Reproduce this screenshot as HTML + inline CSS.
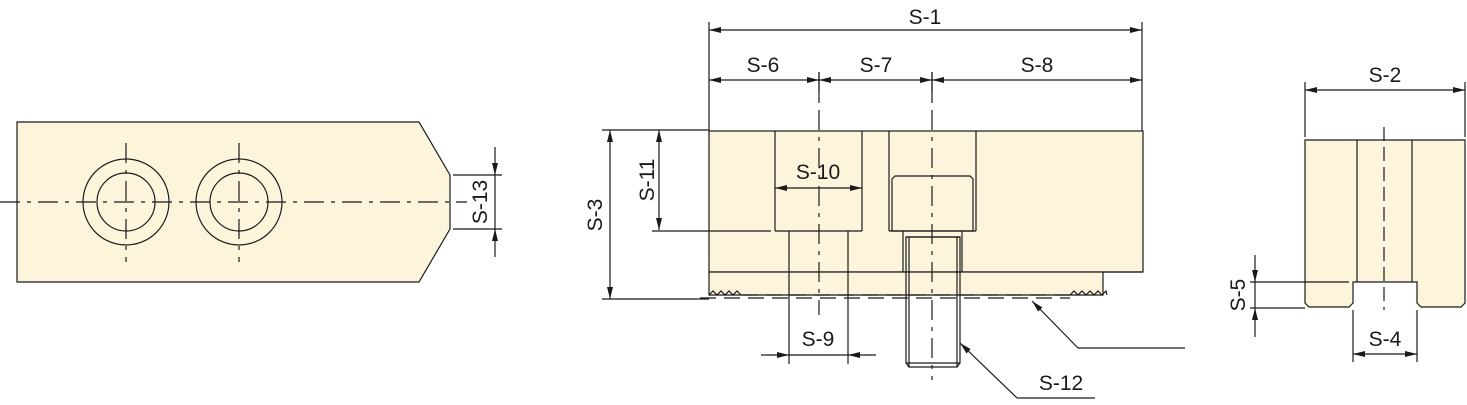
<!DOCTYPE html>
<html><head><meta charset="utf-8"><style>
html,body{margin:0;padding:0;background:#fff;}
svg{display:block;}
text{font-family:"Liberation Sans",Arial,sans-serif;font-size:21px;fill:#1a1a1a;}
</style></head><body>
<svg width="1467" height="405" viewBox="0 0 1467 405" xmlns="http://www.w3.org/2000/svg">
<defs>
<marker id="a" viewBox="0 0 12 6" refX="12" refY="3" markerWidth="12" markerHeight="6" markerUnits="userSpaceOnUse" orient="auto-start-reverse">
<path d="M0,0 L12,3 L0,6 z" fill="#1a1a1a"/></marker>
</defs>
<g stroke="#1a1a1a" stroke-width="1.2" fill="none">
<!-- LEFT VIEW -->
<path d="M17,122 L419,122 L450,175 L450,229 L419,282 L17,282 Z" fill="#fcf5dc"/>
<circle cx="126" cy="202" r="43"/><circle cx="126" cy="202" r="29"/>
<circle cx="239" cy="202" r="43"/><circle cx="239" cy="202" r="29"/>
<line x1="0" y1="202" x2="467" y2="202" stroke-dasharray="20,7,4,7"/>
<line x1="126" y1="143" x2="126" y2="262" stroke-dasharray="20,7,4,7"/>
<line x1="239" y1="143" x2="239" y2="262" stroke-dasharray="20,7,4,7"/>
<line x1="453" y1="175" x2="502" y2="175"/><line x1="453" y1="229" x2="502" y2="229"/>
<line x1="495" y1="147" x2="495" y2="175" marker-end="url(#a)"/>
<line x1="495" y1="257" x2="495" y2="229" marker-end="url(#a)"/>
<line x1="495" y1="175" x2="495" y2="229"/>

<!-- MIDDLE VIEW -->
<rect x="709" y="131" width="434" height="141" fill="#fcf5dc"/>
<path d="M709,272 L709,295 L1103,295 L1103,272" fill="#fcf5dc"/>
<line x1="709" y1="272" x2="1143" y2="272"/>
<path d="M709,295 l4,-4 l4,4 l4,-4 l4,4 l4,-4 l4,4 l4,-4 l4,4"/>
<path d="M1070,295 l4,-4 l4,4 l4,-4 l4,4 l4,-4 l4,4 l4,-4 l4,4 l4,-4 l1,4"/>
<line x1="742" y1="295" x2="1070" y2="295" stroke-dasharray="16,8"/>
<line x1="700" y1="298" x2="1070" y2="298" stroke-dasharray="16,8"/>
<!-- pocket 1 -->
<line x1="775" y1="131" x2="775" y2="231"/><line x1="862" y1="131" x2="862" y2="231"/>
<line x1="652" y1="231" x2="771" y2="231"/><line x1="775" y1="231" x2="862" y2="231"/>
<line x1="789" y1="231" x2="789" y2="364"/><line x1="848" y1="231" x2="848" y2="364"/>
<line x1="819" y1="72" x2="819" y2="315" stroke-dasharray="20,7,4,7"/>
<!-- pocket 2 + bolt -->
<line x1="889" y1="131" x2="889" y2="231"/><line x1="976" y1="131" x2="976" y2="231"/>
<path d="M892,231 L892,179 L895,176 L970,176 L973,179 L973,231 Z" fill="#fcf5dc"/>
<line x1="889" y1="231" x2="976" y2="231"/>
<line x1="903" y1="231" x2="903" y2="272"/><line x1="962" y1="231" x2="962" y2="272"/>
<path d="M906,237 L906,363 L909,367 L957,367 L960,363 L960,237 Z"/>
<line x1="906" y1="237" x2="960" y2="237"/>
<line x1="909" y1="237" x2="909" y2="367"/><line x1="957" y1="237" x2="957" y2="367"/>
<line x1="906" y1="363" x2="960" y2="363"/>
<line x1="932" y1="72" x2="932" y2="380" stroke-dasharray="20,7,4,7"/>
<!-- dims middle -->
<line x1="709" y1="22" x2="709" y2="131"/><line x1="1142" y1="22" x2="1142" y2="131"/>
<line x1="709" y1="30" x2="1142" y2="30" marker-start="url(#a)" marker-end="url(#a)"/>
<line x1="709" y1="80" x2="819" y2="80" marker-start="url(#a)" marker-end="url(#a)"/>
<line x1="819" y1="80" x2="932" y2="80" marker-start="url(#a)" marker-end="url(#a)"/>
<line x1="932" y1="80" x2="1142" y2="80" marker-start="url(#a)" marker-end="url(#a)"/>
<line x1="819" y1="72" x2="819" y2="100"/><line x1="932" y1="72" x2="932" y2="100"/>
<line x1="602" y1="130" x2="709" y2="130"/><line x1="602" y1="299" x2="709" y2="299"/>
<line x1="610" y1="130" x2="610" y2="299" marker-start="url(#a)" marker-end="url(#a)"/>
<line x1="659" y1="130" x2="659" y2="230" marker-start="url(#a)" marker-end="url(#a)"/>
<line x1="775" y1="188" x2="862" y2="188" marker-start="url(#a)" marker-end="url(#a)"/>
<line x1="761" y1="355" x2="789" y2="355" marker-end="url(#a)"/>
<line x1="876" y1="355" x2="848" y2="355" marker-end="url(#a)"/>
<line x1="789" y1="355" x2="848" y2="355"/>
<line x1="1078" y1="348" x2="1032" y2="301" marker-end="url(#a)"/>
<line x1="1078" y1="348" x2="1185" y2="348"/>
<line x1="1017" y1="398" x2="960" y2="343" marker-end="url(#a)"/>
<line x1="1017" y1="398" x2="1095" y2="398"/>

<!-- RIGHT VIEW -->
<path d="M1305,140 L1465,140 L1465,303 L1461,307 L1421,307 L1417,303 L1417,282 L1353,282 L1353,303 L1349,307 L1309,307 L1305,303 Z" fill="#fcf5dc"/>
<line x1="1357" y1="140" x2="1357" y2="282"/><line x1="1412" y1="140" x2="1412" y2="282"/>
<line x1="1250" y1="282" x2="1349" y2="282"/>
<line x1="1250" y1="308" x2="1305" y2="308"/>
<line x1="1384" y1="127" x2="1384" y2="310" stroke-dasharray="14,6"/>
<line x1="1305" y1="82" x2="1305" y2="137"/><line x1="1465" y1="82" x2="1465" y2="137"/>
<line x1="1305" y1="90" x2="1465" y2="90" marker-start="url(#a)" marker-end="url(#a)"/>
<line x1="1255" y1="255" x2="1255" y2="282" marker-end="url(#a)"/>
<line x1="1255" y1="337" x2="1255" y2="308" marker-end="url(#a)"/>
<line x1="1255" y1="282" x2="1255" y2="308"/>
<line x1="1353" y1="310" x2="1353" y2="362"/><line x1="1417" y1="310" x2="1417" y2="362"/>
<line x1="1353" y1="354" x2="1417" y2="354" marker-start="url(#a)" marker-end="url(#a)"/>
</g>
<!-- TEXT -->
<g text-anchor="middle">
<text x="925" y="24">S-1</text>
<text x="763" y="72">S-6</text>
<text x="876" y="72">S-7</text>
<text x="1037" y="72">S-8</text>
<text x="818" y="179">S-10</text>
<text x="818" y="346">S-9</text>
<text x="1061" y="390">S-12</text>
<text x="1385" y="82">S-2</text>
<text x="1385" y="346">S-4</text>
<text transform="translate(602,215) rotate(-90)">S-3</text>
<text transform="translate(654,180) rotate(-90)">S-11</text>
<text transform="translate(487,202) rotate(-90)">S-13</text>
<text transform="translate(1245,295) rotate(-90)">S-5</text>
</g>
</svg>
</body></html>
